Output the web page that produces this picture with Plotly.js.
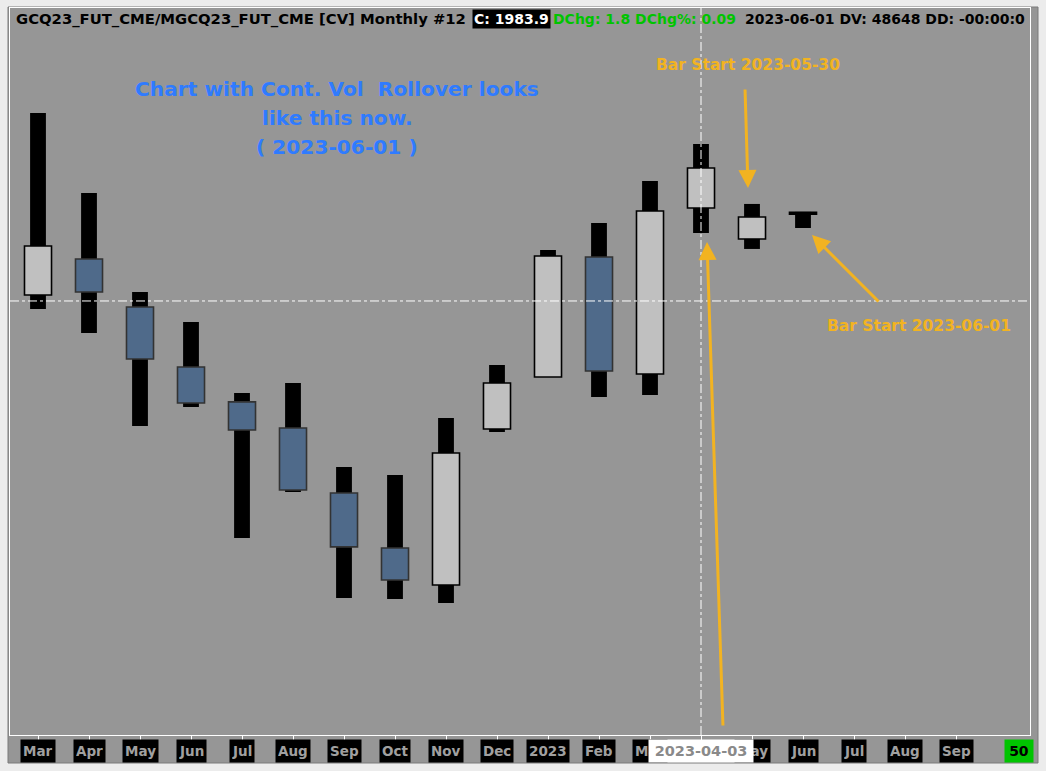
<!DOCTYPE html>
<html>
<head>
<meta charset="utf-8">
<script src="https://cdn.plot.ly/plotly-3.0.1.min.js"></script>
<style>
  html, body { margin: 0; padding: 0; background: #ececec; }
  #chart { width: 1046px; height: 771px; }
</style>
</head>
<body>
<div id="chart"></div>
<script>
// ---- data (monthly bars, Mar 2022 .. Jun 2023) ----
const barIndex = [0, 1, 2, 3, 4, 5, 6, 7, 8, 9, 10, 11, 12, 13, 14, 15];
const openP  = [1907.9, 1941.8, 1896.7, 1840.3, 1807.4, 1782.9, 1721.8, 1670.1, 1635.3, 1782.0, 1830.9, 1943.7, 1833.7, 1989.7, 1960.6, 1985.7];
const highP  = [2079.0, 2003.8, 1910.8, 1882.6, 1815.8, 1825.2, 1746.3, 1738.7, 1792.3, 1842.1, 1950.2, 1975.6, 2015.1, 2049.9, 1993.5, 1986.0];
const lowP   = [1894.8, 1872.2, 1784.8, 1802.7, 1679.5, 1722.8, 1623.1, 1622.2, 1618.4, 1779.2, 1830.9, 1812.1, 1813.9, 1966.2, 1951.2, 1970.9];
const closeP = [1954.0, 1910.8, 1847.8, 1806.4, 1781.0, 1724.6, 1671.1, 1640.0, 1759.4, 1825.2, 1944.6, 1836.5, 1986.9, 2027.3, 1981.3, 1983.9];

// ---- x tick labels ----
const tickPos = [0, 1, 2, 3, 4, 5, 6, 7, 8, 9, 10, 11, 12, 13, 14, 15, 16, 17, 18];
const tickText = ['Mar','Apr','May','Jun','Jul','Aug','Sep','Oct','Nov','Dec','2023','Feb','Mar','Apr','May','Jun','Jul','Aug','Sep'];

// ---- crosshair & header info ----
const crossX = 13;
const crossY = 1902.3;
const crossDate = '2023-04-03';
const symbolText = 'GCQ23_FUT_CME/MGCQ23_FUT_CME [CV] Monthly #12';
const closeText = 'C: 1983.9';
const changeText = 'DChg: 1.8 DChg%: 0.09';
const infoText = '2023-06-01 DV: 48648 DD: -00:00:0';
const noteLines = ['Chart with Cont. Vol  Rollover looks', 'like this now.', '( 2023-06-01 )'];
const barStartA = 'Bar Start 2023-05-30';
const barStartB = 'Bar Start 2023-06-01';
const counterText = '50';

// ---- styling ----
const GRAY = '#969696';
const UP_FILL = '#c0c0c0', UP_LINE = '#000000';
const DN_FILL = '#4f6a8a', DN_LINE = '#333333';
const CUR_FILL = '#000000';
const ORANGE = '#f2b321';
const BLUE = '#2f7bff';
const GREEN = '#00c400';

const L = 10, T = 8, W = 1020, H = 727; // plot area in page px
const px = X => (X - L) / W;
const py = Y => (T + H - Y) / H;

const n = barIndex.length;
const bodyBase = [], bodyLen = [], bodyFill = [], bodyLine = [], wickLen = [];
for (let i = 0; i < n; i++) {
  const up = closeP[i] >= openP[i];
  bodyBase.push(Math.min(openP[i], closeP[i]));
  bodyLen.push(Math.max(Math.abs(closeP[i] - openP[i]), 0.4));
  let fill = up ? UP_FILL : DN_FILL;
  let line = up ? UP_LINE : DN_LINE;
  if (i === n - 1) { fill = CUR_FILL; line = CUR_FILL; }
  bodyFill.push(fill);
  bodyLine.push(line);
  wickLen.push(highP[i] - lowP[i]);
}

const wicks = {
  type: 'bar', x: barIndex, y: wickLen, base: lowP, width: 0.31,
  marker: { color: '#000000', line: { width: 0 } },
  hoverinfo: 'skip', showlegend: false
};
const bodies = {
  type: 'bar', x: barIndex, y: bodyLen, base: bodyBase, width: 0.53,
  marker: { color: bodyFill, line: { color: bodyLine, width: 1.6 } },
  hoverinfo: 'skip', showlegend: false
};

const annotations = [];
const hdrFont = { family: 'DejaVu Sans', size: 14.8, color: '#000000' };
annotations.push({ xref: 'paper', yref: 'paper', x: px(14), y: py(19), xanchor: 'left', yanchor: 'middle',
  text: '<b>' + symbolText + '</b>', showarrow: false, font: hdrFont });
annotations.push({ xref: 'paper', yref: 'paper', x: px(472), y: py(19), xanchor: 'left', yanchor: 'middle',
  text: '<b>' + closeText + '</b>', showarrow: false, bgcolor: '#000000', borderpad: 1,
  font: Object.assign({}, hdrFont, { color: '#ffffff', size: 14 }) });
annotations.push({ xref: 'paper', yref: 'paper', x: px(551), y: py(19), xanchor: 'left', yanchor: 'middle',
  text: '<b>' + changeText + '</b>', showarrow: false,
  font: Object.assign({}, hdrFont, { color: GREEN, size: 14 }) });
annotations.push({ xref: 'paper', yref: 'paper', x: px(743), y: py(19), xanchor: 'left', yanchor: 'middle',
  text: '<b>' + infoText + '</b>', showarrow: false, font: Object.assign({}, hdrFont, { size: 14 }) });

// blue note
const noteY = [89, 118, 147];
noteLines.forEach((t, i) => annotations.push({ xref: 'paper', yref: 'paper', x: px(337), y: py(noteY[i]),
  xanchor: 'center', yanchor: 'middle', text: '<b>' + t + '</b>', showarrow: false,
  font: { family: 'DejaVu Sans', size: 20.2, color: BLUE } }));

// orange labels
annotations.push({ xref: 'paper', yref: 'paper', x: px(654), y: py(65), xanchor: 'left', yanchor: 'middle',
  text: '<b>' + barStartA + '</b>', showarrow: false, font: { family: 'DejaVu Sans', size: 15.5, color: ORANGE } });
annotations.push({ xref: 'paper', yref: 'paper', x: px(825), y: py(326), xanchor: 'left', yanchor: 'middle',
  text: '<b>' + barStartB + '</b>', showarrow: false, font: { family: 'DejaVu Sans', size: 15.5, color: ORANGE } });

// orange arrows (tip position, tail offset in px)
const arrows = [
  { tx: 748, ty: 188, ax: -3, ay: -100 },
  { tx: 707, ty: 242, ax: 16, ay: 485 },
  { tx: 812, ty: 235, ax: 68, ay: 68 }
];
arrows.forEach(a => annotations.push({ xref: 'paper', yref: 'paper', x: px(a.tx), y: py(a.ty), text: '',
  showarrow: true, ax: a.ax, ay: a.ay, arrowcolor: ORANGE, arrowwidth: 3, arrowhead: 2, arrowsize: 1.2, standoff: 0 }));

// bottom month labels (the one under the crosshair date box is hidden, as in the source)
tickText.forEach((t, i) => {
  if (tickPos[i] === crossX) return;
  annotations.push({ xref: 'x', yref: 'paper', x: tickPos[i], y: py(751),
    xanchor: 'center', yanchor: 'middle', text: '<b>' + t + '</b>', showarrow: false,
    bgcolor: '#000000', borderpad: 2, height: 18,
    font: { family: 'DejaVu Sans', size: 13.5, color: '#a0a0a0' } });
});

// crosshair date box
annotations.push({ xref: 'x', yref: 'paper', x: crossX, y: py(751), xanchor: 'center', yanchor: 'middle',
  text: '<b>' + crossDate + '</b>', showarrow: false, bgcolor: '#ffffff', borderpad: 2, height: 18, width: 100,
  font: { family: 'DejaVu Sans', size: 14.5, color: '#8a8a8a' } });

// counter box
annotations.push({ xref: 'paper', yref: 'paper', x: px(1019), y: py(751), xanchor: 'center', yanchor: 'middle',
  text: '<b>' + counterText + '</b>', showarrow: false, bgcolor: GREEN, borderpad: 2, height: 18, width: 24,
  font: { family: 'DejaVu Sans', size: 14, color: '#000000' } });

const shapes = [
  { type: 'rect', xref: 'paper', yref: 'paper', x0: px(8), x1: px(1038), y0: py(763), y1: py(7),
    fillcolor: GRAY, line: { color: '#7a7a7a', width: 1 }, layer: 'below' },
  { type: 'line', xref: 'x', yref: 'paper', x0: crossX, x1: crossX, y0: 0, y1: 1,
    line: { color: '#ffffff', width: 1, dash: 'dashdot' }, layer: 'above' },
  { type: 'line', xref: 'paper', yref: 'y', x0: 0, x1: 1, y0: crossY, y1: crossY,
    line: { color: '#ffffff', width: 1, dash: 'dashdot' }, layer: 'above' }
];

const layout = {
  width: 1046, height: 771,
  margin: { l: L, r: 1046 - L - W, t: T, b: 771 - T - H, pad: 0 },
  paper_bgcolor: '#ececec', plot_bgcolor: GRAY,
  barmode: 'overlay', showlegend: false,
  xaxis: { range: [-28 / 51, 992 / 51], tickvals: tickPos, ticktext: tickText, showticklabels: false,
    ticks: 'outside', ticklen: 4, tickcolor: '#ffffff', tickwidth: 1,
    showgrid: false, zeroline: false, showline: true, mirror: true, linecolor: '#ffffff', linewidth: 1, fixedrange: true },
  yaxis: { range: [1494.3, 2177.7], showticklabels: false, ticks: '', showgrid: false, zeroline: false,
    showline: true, mirror: true, linecolor: '#ffffff', linewidth: 1, fixedrange: true },
  annotations: annotations, shapes: shapes
};

Plotly.newPlot('chart', [wicks, bodies], layout, { displayModeBar: false, staticPlot: true });
</script>
</body>
</html>
